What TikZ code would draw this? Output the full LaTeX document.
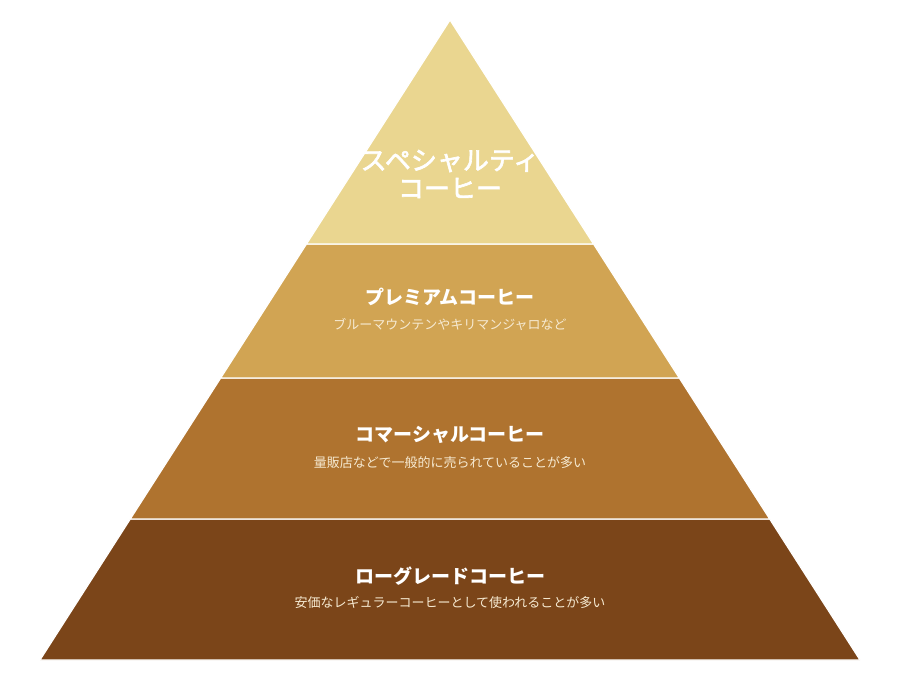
\documentclass[tikz,border=0pt]{standalone}
\usepackage{fontspec}
\newfontfamily\jp{Noto Sans CJK JP}
\newfontfamily\jpmed[FakeBold=2.5]{Noto Sans CJK JP}
\definecolor{lvA}{HTML}{EAD690}
\definecolor{lvB}{HTML}{D1A453}
\definecolor{lvC}{HTML}{AF732F}
\definecolor{lvD}{HTML}{7B4519}
\definecolor{subtxt}{HTML}{F6EAD2}
\begin{document}
\begin{tikzpicture}[x=1pt,y=-1pt,
  band/.style={draw=white,line width=1.2pt,line join=miter},
  toptitle/.style={font=\jpmed\fontsize{26}{28}\selectfont,text=white,align=center,inner sep=0pt},
  title/.style={font=\jp\bfseries\fontsize{19}{22}\selectfont,text=white,inner sep=0pt},
  subtitle/.style={font=\jp\fontsize{13}{15}\selectfont,text=subtxt,inner sep=0pt}]
\useasboundingbox (0,0) rectangle (900,680);
% bands
\fill[lvD,band] (130.3,519) -- (769.7,519) -- (860,660) -- (40,660) -- cycle;
\fill[lvC,band] (220.7,378) -- (679.3,378) -- (769.7,519) -- (130.3,519) -- cycle;
\fill[lvB,band] (306.5,244) -- (593.5,244) -- (679.3,378) -- (220.7,378) -- cycle;
\fill[lvA,band] (450,20) -- (593.5,244) -- (306.5,244) -- cycle;
% texts
\node[toptitle] (t1) at (450,174) {スペシャルティ\\コーヒー};
\node[title] (t2) at (450,297) {プレミアムコーヒー};
\node[subtitle] (s2) at (450,325) {ブルーマウンテンやキリマンジャロなど};
\node[title] (t3) at (450,435) {コマーシャルコーヒー};
\node[subtitle] (s3) at (450,463) {量販店などで一般的に売られていることが多い};
\node[title] (t4) at (450,576) {ローグレードコーヒー};
\node[subtitle] (s4) at (450,603) {安価なレギュラーコーヒーとして使われることが多い};
\end{tikzpicture}
\end{document}
